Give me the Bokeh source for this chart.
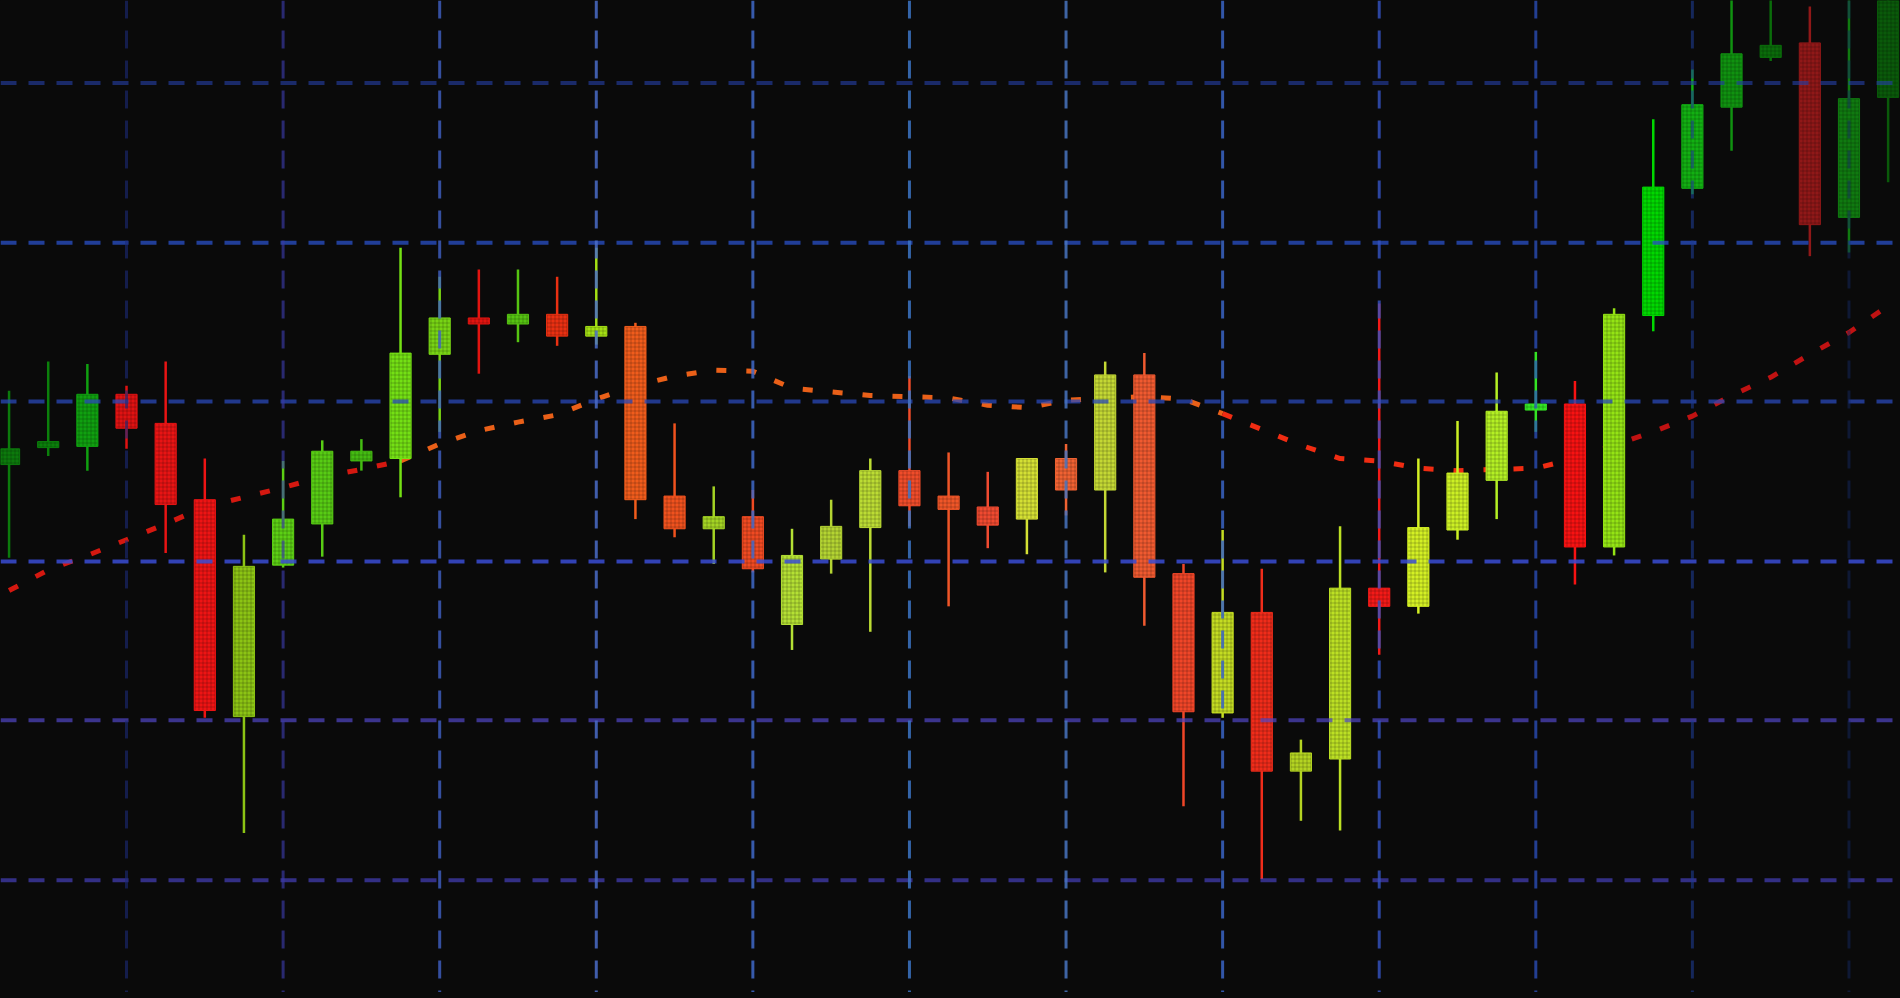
from bokeh.plotting import figure
from bokeh.models import Range1d, Span, ColumnDataSource
from bokeh.embed import file_html
from bokeh.resources import INLINE

# price values (arbitrary points)
opens  = [441, 455, 456, 499, 475, 412, 233, 358, 392, 444, 446, 532, 562, 557, 565, 547,
          555, 415, 388, 398, 309, 363, 389, 436, 415, 406, 396, 446, 420, 515, 351, 236,
          319, 188, 198, 339, 324, 387, 428, 486, 491, 373, 564, 669, 736, 777, 789, 645, 744]
closes = [454, 460, 499, 471, 408, 238, 357, 396, 452, 452, 533, 562, 557, 565, 547, 555,
          412, 388, 398, 355, 366, 390, 436, 407, 404, 391, 446, 420, 515, 348, 237, 319,
          188, 203, 339, 324, 389, 434, 485, 491, 373, 565, 670, 738, 780, 787, 639, 743, 840]
highs  = [502, 526, 524, 506, 526, 446, 383, 444, 461, 462, 620, 596, 602, 602, 596, 620,
          558, 475, 423, 420, 388, 412, 446, 514, 451, 435, 446, 458, 526, 533, 359, 387,
          355, 214, 390, 574, 446, 477, 517, 534, 510, 570, 726, 767, 830, 830, 819, 830, 850]
lows   = [364, 448, 436, 454, 368, 232, 137, 356, 365, 436, 414, 468, 516, 542, 539, 540,
          396, 381, 359, 352, 288, 351, 303, 390, 324, 372, 367, 399, 352, 308, 159, 232,
          99, 147, 139, 284, 318, 379, 396, 468, 342, 366, 551, 664, 700, 774, 613, 616, 674]
moving_avg = [337, 354, 366, 379, 392, 406, 414, 422, 431, 437, 444, 458, 469, 476, 482, 495,
              506, 514, 519, 518, 504, 501, 498, 497, 496, 490, 488, 494, 496, 497, 495, 483,
              470, 457, 446, 444, 438, 436, 437, 438, 446, 457, 468, 481, 498, 513, 532, 550, 572]
h_levels = [98, 230, 361, 493, 624, 756]
v_levels = [3, 7, 11, 15, 19, 23, 27, 31, 35, 39, 43, 47]

# styles
candle_colors = ["#0c7a0c", "#0b800b", "#10a010", "#e01212", "#e81414", "#ee1414", "#8cc414",
                 "#5cd014", "#58cc14", "#44bc12", "#74e014", "#78d414", "#e21410", "#56c412",
                 "#ea3012", "#a4e014", "#f05c1c", "#f0521e", "#a4d424", "#f04a22", "#b4e034",
                 "#b4d432", "#bcdc34", "#f04c2a", "#f05628", "#f04a30", "#d4e034", "#f06232",
                 "#c4d834", "#f05a30", "#f04628", "#c4dc22", "#f02c1a", "#b4d422", "#bce024",
                 "#f41a18", "#d4f024", "#ccf024", "#b4f024", "#34e424", "#f81212", "#94e414",
                 "#00d800", "#12b012", "#109210", "#0a6c0a", "#901818", "#107a10", "#0a5a0a"]
ma_sections = [(0, 11, "#d41810"), (10, 32, "#ea6018"), (31, 41, "#f02c12"), (40, 49, "#c01212")]
h_colors = ["#4a44c8", "#5046c4", "#3a4cd4", "#2a48b8", "#2a50c8", "#2440a8"]
h_alphas = [0.65, 0.7, 0.85, 0.75, 0.75, 0.6]
v_colors = ["#1a2a78", "#3a3aa8", "#4060c4", "#4a6cc8", "#4068c8", "#3c74c4", "#4874c0",
            "#3a64c4", "#3454c4", "#2c52c0", "#1c3a90", "#142860"]
v_alphas = [0.6, 0.65, 0.8, 0.85, 0.85, 0.85, 0.85, 0.85, 0.8, 0.75, 0.6, 0.5]

idx = list(range(len(opens)))
tops = [max(o, c) for o, c in zip(opens, closes)]
bottoms = [min(o, c) for o, c in zip(opens, closes)]
src = ColumnDataSource(dict(x=idx, top=tops, bottom=bottoms, high=highs, low=lows,
                            color=candle_colors))

p = figure(width=1900, height=992, x_range=Range1d(-0.219, 48.316),
           y_range=Range1d(5.3, 824.0), output_backend="svg", toolbar_location=None,
           min_border=0, background_fill_color="#0a0a0a", border_fill_color="#0a0a0a",
           outline_line_color=None)
p.axis.visible = False
p.grid.visible = False

for lvl, c, a in zip(h_levels, h_colors, h_alphas):
    p.add_layout(Span(location=lvl, dimension="width", line_color=c, line_alpha=a,
                      line_width=4, line_dash="16 12"))
for lvl, c, a in zip(v_levels, v_colors, v_alphas):
    p.add_layout(Span(location=lvl, dimension="height", line_color=c, line_alpha=a,
                      line_width=3, line_dash="18 12"))

for a, b, c in ma_sections:
    p.line(idx[a:b], moving_avg[a:b], line_color=c, line_width=5, line_dash="10 20")

p.segment(x0="x", y0="low", x1="x", y1="high", line_color="color", line_width=2.5, source=src)
p.vbar(x="x", width=0.54, top="top", bottom="bottom", fill_color="color", line_color="color",
       line_width=1, hatch_pattern="+", hatch_color="#000000", hatch_alpha=0.22,
       hatch_scale=4, hatch_weight=1, source=src)

html = file_html(p, INLINE)
html = html.replace("<head>", "<head><style>body{background:#0a0a0a;}</style>", 1)
open("out.html", "w").write(html)
